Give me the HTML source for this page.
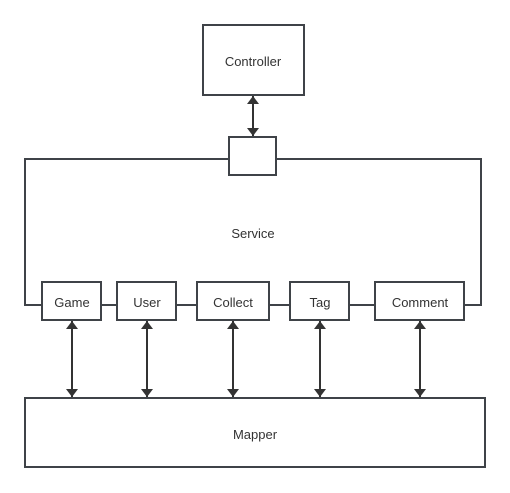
<!DOCTYPE html>
<html><head><meta charset="utf-8"><style>
html,body{margin:0;padding:0;background:#fff;}
svg{display:block;}
text{font-family:"Liberation Sans",sans-serif;font-size:13px;fill:#333;}
</style></head><body>
<svg width="510" height="493" viewBox="0 0 510 493" xmlns="http://www.w3.org/2000/svg">
<defs>
<marker id="a" viewBox="0 0 10 10" refX="10" refY="5" markerWidth="8" markerHeight="12" markerUnits="userSpaceOnUse" orient="auto-start-reverse" preserveAspectRatio="none">
<path d="M0,0 L10,5 L0,10 z" fill="#333"/></marker>
</defs>
<g stroke="#3f4348" stroke-width="2" fill="none">
<polyline points="229,159 25,159 25,305 42,305"/>
<polyline points="276,159 481,159 481,305 464,305"/>
<line x1="101" y1="305" x2="117" y2="305"/>
<line x1="176" y1="305" x2="197" y2="305"/>
<line x1="269" y1="305" x2="290" y2="305"/>
<line x1="349" y1="305" x2="375" y2="305"/>
<rect x="203" y="25" width="101" height="70" fill="#fff"/>
<rect x="229" y="137" width="47" height="38" fill="#fff"/>
<rect x="42" y="282" width="59" height="38" fill="#fff"/>
<rect x="117" y="282" width="59" height="38" fill="#fff"/>
<rect x="197" y="282" width="72" height="38" fill="#fff"/>
<rect x="290" y="282" width="59" height="38" fill="#fff"/>
<rect x="375" y="282" width="89" height="38" fill="#fff"/>
<rect x="25" y="398" width="460" height="69" fill="#fff"/>
</g>
<g stroke="#333" stroke-width="2" marker-start="url(#a)" marker-end="url(#a)">
<line x1="253" y1="96" x2="253" y2="136"/>
<line x1="72" y1="321" x2="72" y2="397"/>
<line x1="147" y1="321" x2="147" y2="397"/>
<line x1="233" y1="321" x2="233" y2="397"/>
<line x1="320" y1="321" x2="320" y2="397"/>
<line x1="420" y1="321" x2="420" y2="397"/>
</g>
<g text-anchor="middle">
<text x="253" y="66">Controller</text>
<text x="253" y="238">Service</text>
<text x="72" y="307">Game</text>
<text x="147" y="307">User</text>
<text x="233" y="307">Collect</text>
<text x="320" y="307">Tag</text>
<text x="420" y="307">Comment</text>
<text x="255" y="439">Mapper</text>
</g>
</svg>
</body></html>
